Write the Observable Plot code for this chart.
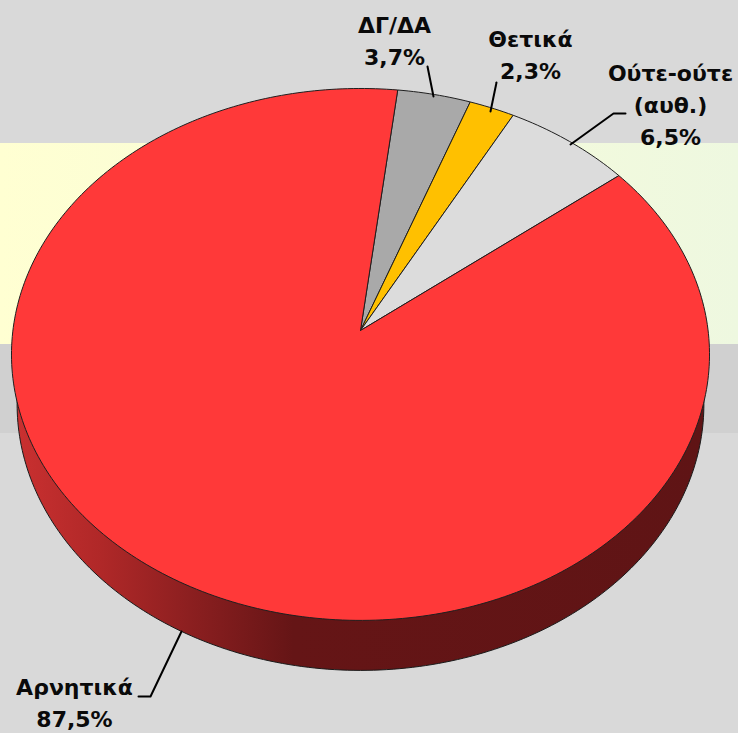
<!DOCTYPE html>
<html><head><meta charset="utf-8">
<script src="https://cdn.jsdelivr.net/npm/d3@7"></script>
<script src="https://cdn.jsdelivr.net/npm/@observablehq/plot@0.6"></script>
<style>html,body{margin:0;padding:0;background:#d9d9d9}svg{display:block}</style>
</head><body><div id="chart"></div>
<script>
// Slices, clockwise from the first edge
const categories = ["ΔΓ/ΔΑ", "Θετικά", "Ούτε-ούτε (αυθ.)", "Αρνητικά"];
const values = [3.7, 2.3, 6.5, 87.5];
const colors = ["#a9a9a9", "#ffc000", "#dcdcdc", "#ff3939"];
const startAngle = 6.7;

// Labels
const labelText = ["ΔΓ/ΔΑ\n3,7%", "Θετικά\n2,3%", "Ούτε-ούτε\n(αυθ.)\n6,5%", "Αρνητικά\n87,5%"];
const labelX = [394, 530, 670, 74];
const labelY = [38, 52, 102, 700];

// Leader lines
const leaderId = [0, 0, 1, 1, 2, 2, 2, 3, 3, 3];
const leaderX = [427, 433, 496, 490, 625, 613, 570, 138, 150, 181];
const leaderY = [66, 96, 82, 111, 113, 113, 144, 696, 696, 631];

// Background bands
const bandTop = [0, 143, 344, 433];
const bandBottom = [143, 344, 433, 733];
const bandFill = ["#d9d9d9", "url(#band)", "#d0d0d0", "#d9d9d9"];

// Pie view: apex, radii, perspective, wall
const apexX = 360, apexY = 330, radiusX = 347.6, radiusY = 263.8, persp = 0.09;
const wallRadiusX = 342, wallShift = 50;

function project(deg, rx, cy) {
  const a = deg * Math.PI / 180, u = Math.sin(a), v = Math.cos(a), w = 1 + persp * v;
  return {x: apexX + rx * u / w, y: cy - radiusY * v / w};
}

const slices = [];
let cum = startAngle;
categories.forEach((c, i) => {
  const span = values[i] * 3.6;
  slices.push({c, x: apexX, y: apexY});
  const n = Math.ceil(span);
  for (let k = 0; k <= n; k++) slices.push({c, ...project(cum + span * k / n, radiusX, apexY)});
  slices.push({c, x: apexX, y: apexY});
  cum += span;
});
const wall = d3.range(0, 361).map(d => project(d, wallRadiusX, apexY + wallShift));

const defs = () => {
  const s = d3.create("svg:defs");
  const g = s.append("linearGradient").attr("id", "wall").attr("gradientUnits", "userSpaceOnUse")
    .attr("x1", 17).attr("x2", 706).attr("y1", 0).attr("y2", 0);
  [[0, "#c93030"], [0.12, "#b02828"], [0.25, "#8c1f20"], [0.4, "#651516"], [1, "#5f1415"]]
    .forEach(([o, c]) => g.append("stop").attr("offset", o).attr("stop-color", c));
  const b = s.append("linearGradient").attr("id", "band");
  [[0, "#ffffd2"], [1, "#eef8e0"]].forEach(([o, c]) => b.append("stop").attr("offset", o).attr("stop-color", c));
  return s.node();
};

const chart = Plot.plot({
  width: 738, height: 733, margin: 0,
  x: {domain: [0, 738], range: [0, 738], axis: null},
  y: {domain: [0, 733], range: [0, 733], axis: null},
  color: {domain: categories, range: colors},
  style: {background: "#d9d9d9"},
  marks: [
    defs,
    Plot.rect(d3.range(bandTop.length), {
      x1: () => 0, x2: () => 738, y1: i => bandTop[i], y2: i => bandBottom[i],
      fill: i => bandFill[i]
    }),
    Plot.line(wall, {x: "x", y: "y", fill: "url(#wall)", stroke: "#1a1a1a", strokeWidth: 1}),
    Plot.line(slices, {x: "x", y: "y", z: "c", fill: "c", stroke: "#1f1f1f", strokeWidth: 1, strokeLinejoin: "round"}),
    Plot.line(d3.range(leaderX.length), {
      x: i => leaderX[i], y: i => leaderY[i], z: i => leaderId[i],
      stroke: "#000", strokeWidth: 2, strokeLinejoin: "round"
    }),
    Plot.text(labelText, {
      x: (d, i) => labelX[i], y: (d, i) => labelY[i], text: d => d,
      fontFamily: "'DejaVu Sans'", fontWeight: 700, fontSize: 22, lineHeight: 1.47,
      fill: "#0a0a0a", textAnchor: "middle"
    })
  ]
});
document.getElementById("chart").append(chart);
</script></body></html>
